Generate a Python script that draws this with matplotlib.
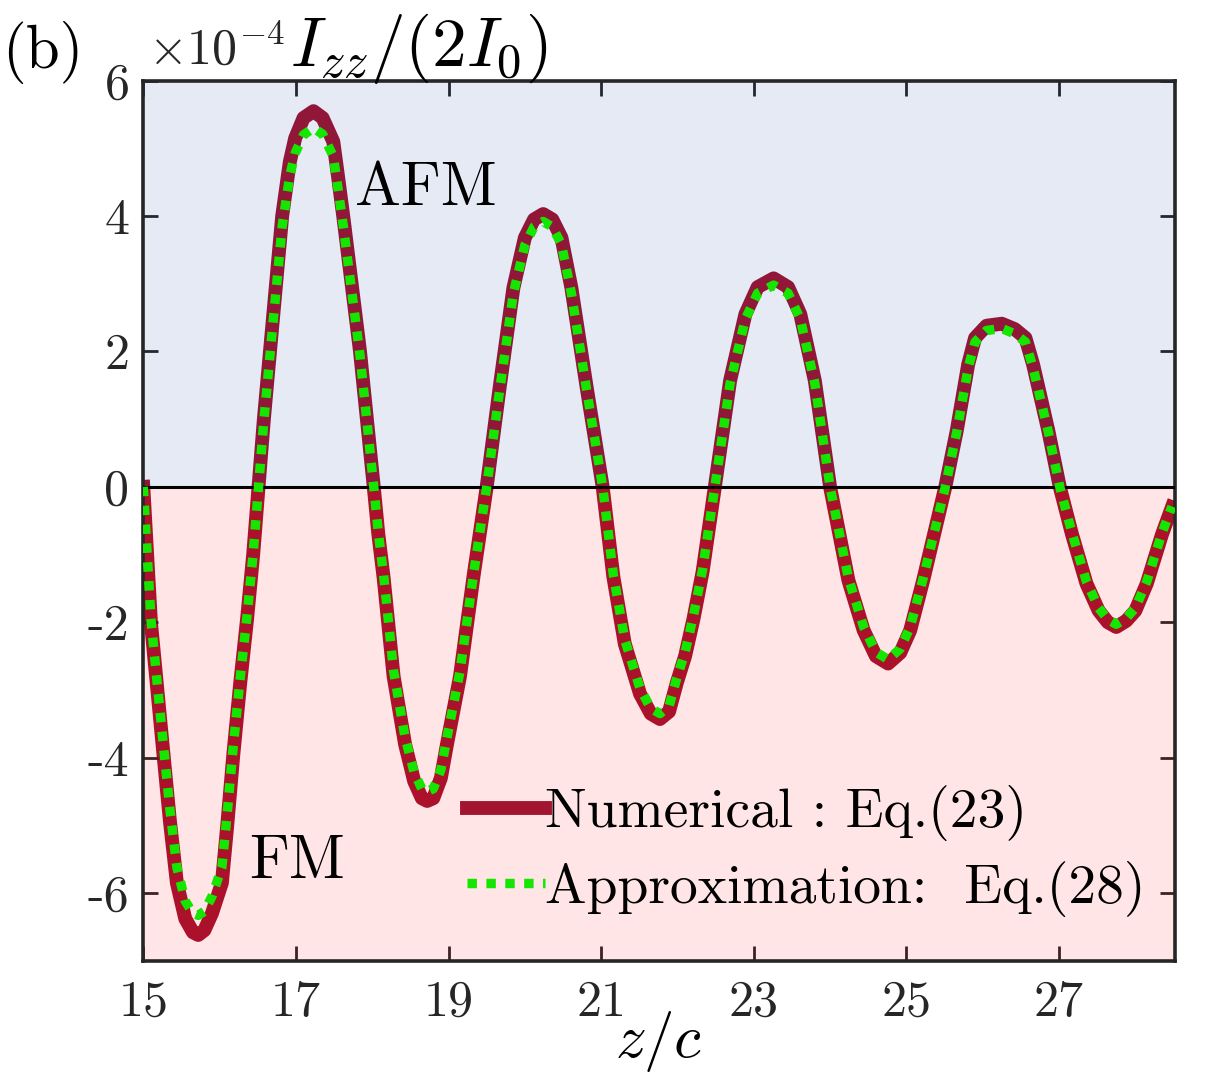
import numpy as np
import matplotlib.pyplot as plt

# z/c positions
z = [15.00, 15.05, 15.10, 15.18, 15.26, 15.35, 15.44, 15.55, 15.65, 15.72,
     15.80, 15.90, 16.03, 16.10, 16.18, 16.27, 16.36, 16.44, 16.51, 16.58,
     16.66, 16.74, 16.82, 16.92, 16.99, 17.10, 17.23, 17.35, 17.49, 17.55,
     17.62, 17.73, 17.84, 17.93, 18.02, 18.08, 18.15, 18.28, 18.43, 18.55,
     18.65, 18.72, 18.80, 18.90, 18.98, 19.15, 19.33, 19.50, 19.67, 19.85,
     20.00, 20.12, 20.24, 20.36, 20.48, 20.61, 20.81, 21.02, 21.16, 21.31,
     21.51, 21.65, 21.77, 21.89, 21.99, 22.10, 22.21, 22.33, 22.49, 22.69,
     22.89, 23.05, 23.26, 23.45, 23.61, 23.80, 24.00, 24.24, 24.44, 24.60,
     24.76, 24.92, 25.05, 25.22, 25.51, 25.66, 25.81, 25.90, 26.05, 26.25,
     26.42, 26.56, 26.66, 26.86, 27.01, 27.17, 27.36, 27.52, 27.64, 27.75,
     27.88, 28.00, 28.15, 28.35, 28.48]

# Numerical : Eq.(23), units of 1e-4
numerical = [0.00, -1.00, -2.00, -2.95, -3.90, -4.95, -5.85, -6.38, -6.58, -6.62,
             -6.55, -6.30, -5.85, -5.00, -3.95, -2.90, -1.95, -1.00, 0.00, 1.00,
             2.00, 3.00, 4.00, 4.80, 5.15, 5.45, 5.55, 5.45, 5.10, 4.60,
             4.00, 3.00, 2.00, 1.00, 0.00, -0.70, -1.35, -2.80, -3.80, -4.35,
             -4.60, -4.64, -4.60, -4.30, -3.80, -2.80, -1.30, 0.00, 1.47, 2.94,
             3.68, 3.95, 4.03, 3.95, 3.68, 2.94, 1.47, 0.00, -1.33, -2.32,
             -3.06, -3.35, -3.43, -3.32, -2.90, -2.50, -1.95, -1.25, 0.00, 1.57,
             2.55, 2.95, 3.08, 2.95, 2.55, 1.57, 0.00, -1.38, -2.12, -2.50,
             -2.61, -2.45, -2.12, -1.38, 0.00, 0.83, 1.81, 2.20, 2.38, 2.41,
             2.33, 2.20, 1.81, 0.83, 0.00, -0.70, -1.43, -1.83, -2.00, -2.07,
             -1.98, -1.83, -1.43, -0.70, -0.30]

# Approximation: Eq.(28), units of 1e-4
approx = [0.00, -0.98, -1.95, -2.88, -3.78, -4.78, -5.62, -6.12, -6.30, -6.33,
          -6.27, -6.05, -5.62, -4.82, -3.82, -2.82, -1.90, -0.98, 0.00, 0.98,
          1.95, 2.90, 3.85, 4.60, 4.93, 5.20, 5.30, 5.21, 4.88, 4.42,
          3.86, 2.90, 1.94, 0.97, 0.00, -0.68, -1.31, -2.72, -3.70, -4.22,
          -4.46, -4.50, -4.46, -4.18, -3.70, -2.73, -1.27, 0.00, 1.43, 2.86,
          3.57, 3.84, 3.92, 3.84, 3.58, 2.86, 1.43, 0.00, -1.30, -2.26,
          -2.98, -3.27, -3.35, -3.24, -2.83, -2.44, -1.90, -1.22, 0.00, 1.53,
          2.48, 2.86, 2.98, 2.86, 2.48, 1.53, 0.00, -1.35, -2.07, -2.44,
          -2.55, -2.39, -2.07, -1.35, 0.00, 0.81, 1.76, 2.14, 2.31, 2.34,
          2.26, 2.14, 1.76, 0.81, 0.00, -0.68, -1.40, -1.79, -1.96, -2.03,
          -1.94, -1.79, -1.40, -0.68, -0.29]

xticks = [15, 17, 19, 21, 23, 25, 27]
yticks = [-6, -4, -2, 0, 2, 4, 6]

plt.rcParams['mathtext.fontset'] = 'cm'
plt.rcParams['axes.unicode_minus'] = False

W, H = 1217, 1089
fig = plt.figure(figsize=(W/100, H/100), dpi=100)
ax = fig.add_axes([143.3/W, 1-960.7/H, (1175-143.3)/W, (960.7-80.7)/H])

axcol = (0.15, 0.15, 0.15)
red = (0.635, 0.078, 0.184)
green = (0.08, 0.9, 0.0)

ax.plot(z, numerical, color=red, lw=10, solid_joinstyle='round', zorder=1,
        label='Numerical : Eq.(23)')
ax.axhspan(0, 6, color=(0.0, 0.2, 0.6), alpha=0.1, lw=0, zorder=2)
ax.axhspan(-7, 0, color=(1.0, 0.0, 0.0), alpha=0.1, lw=0, zorder=2)
ax.axhline(0, color='black', lw=2.2, zorder=3)
ax.plot(z, approx, color=green, lw=6.8, ls=(0, (1, 1)), dash_capstyle='butt',
        zorder=4, label='Approximation:  Eq.(28)')

ax.set_xlim(15, 28.52)
ax.set_ylim(-7, 6)
ax.set_xticks(xticks)
ax.set_yticks(yticks)
ax.set_xticklabels([str(t) for t in xticks], family='cmr10', fontsize=36, color=axcol)
ax.set_yticklabels([str(t) for t in yticks], family='cmr10', fontsize=36, color=axcol)
ax.tick_params(direction='in', length=11, width=2, color=axcol, top=True, right=True)
ax.tick_params(axis='x', pad=14)
ax.tick_params(axis='y', pad=10)
for s in ax.spines.values():
    s.set_linewidth(2.6)
    s.set_color(axcol)

ax.set_xlabel(r'$z/c$', fontsize=44, labelpad=-12)

ax.text(0.205, 0.859, 'AFM', transform=ax.transAxes, family='cmr10', fontsize=44,
        va='baseline')
ax.text(0.103, 0.094, 'FM', transform=ax.transAxes, family='cmr10', fontsize=44,
        va='baseline')

fig.text(2/W, 1-68/H, '(b)', family='cmr10', fontsize=44, va='baseline')
fig.text(148/W, 1-64/H, r'$\times10^{\mathrm{-}4}$', fontsize=36, color=axcol,
         va='baseline')
fig.text(290/W, 1-66/H, r'$I_{zz}/(2I_0)$', fontsize=50, va='baseline')

leg = ax.legend(loc='lower left', bbox_to_anchor=(0.314, 0.05), frameon=False,
                prop={'family': 'cmr10', 'size': 40}, handlelength=1.4,
                handletextpad=0.0, labelspacing=0.35, borderpad=0, borderaxespad=0)

fig.savefig('out.png', dpi=100)
